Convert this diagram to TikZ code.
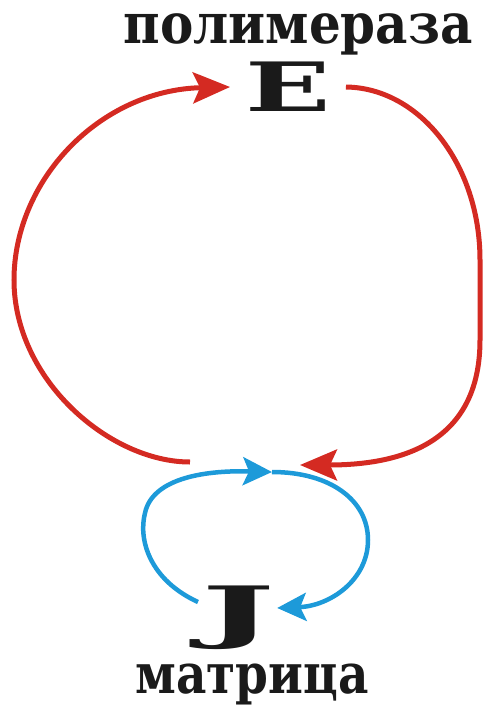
\documentclass[tikz,border=0pt]{standalone}
\usepackage{fontspec}
\usepackage{graphicx}
\usepackage{tikz}
\usetikzlibrary{arrows.meta,positioning}
\newfontfamily\labelfont{DejaVu Serif}
\newfontfamily\letterfont{DejaVu Serif}
\definecolor{loop}{HTML}{D42A22}
\definecolor{copy}{HTML}{1D9AD9}
\definecolor{ink}{HTML}{1A1A1A}

\begin{document}
\begin{tikzpicture}[
  x=1pt,y=-1pt,
  word/.style={inner sep=0pt,anchor=base,text=ink,font=\labelfont\bfseries\fontsize{50}{54}\selectfont},
  letter/.style={inner sep=15pt,text=ink,font=\letterfont\bfseries\fontsize{68}{70}\selectfont},
  redarc/.style={draw=loop,line width=5pt,-{Stealth[length=37pt,width=31pt,inset=7pt]}},
  bluearc/.style={draw=copy,line width=4.5pt,-{Stealth[length=29pt,width=28pt,inset=6pt]}},
]
\path[use as bounding box] (0,0) rectangle (487,715);

% --- polymerase
\node[word] (enzlbl) at (298,43) {\scalebox{1}[1.12]{полимераза}};
\node[letter] (E) at (288,87) {\scalebox{1.65}[1]{E}};

% --- template
\node[letter,inner sep=2pt] (J) at (238,618) {\scalebox{2.3}[1]{J}};
\node[word,font=\labelfont\bfseries\fontsize{47}{50}\selectfont] (tpllbl) at (252,693) {\scalebox{1}[1.18]{матрица}};

% --- free ends near the template
\coordinate (ls) at (190,462);
\coordinate (rs) at (300,465);
\coordinate (jstart) at (198,602);
\coordinate (jtop) at (272,472);

% --- red cycle
\draw[redarc] (ls) .. controls (110,462) and (14,380) .. (14,280)
  .. controls (14,180) and (100,90) .. (E.west);
\draw[redarc] (E.east) .. controls (420,88) and (480,165) .. (480,260)
  -- (480,340) .. controls (480,430) and (420,465) .. (rs);

% --- blue cycle
\draw[bluearc] (jstart) .. controls (150,580) and (138,540) .. (145,513)
  .. controls (152,480) and (200,470) .. (jtop);
\draw[bluearc] (jtop) .. controls (330,472) and (368,500) .. (368,540)
  .. controls (368,580) and (330,606) .. ([yshift=10pt]J.east);
\end{tikzpicture}
\end{document}
